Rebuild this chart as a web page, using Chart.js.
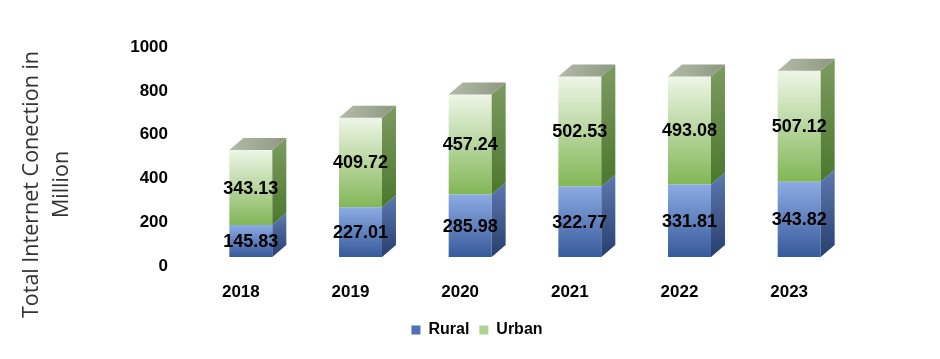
<!DOCTYPE html>
<html>
<head>
<meta charset="utf-8">
<script src="https://cdn.jsdelivr.net/npm/chart.js@4"></script>
<style>
  html, body { margin: 0; padding: 0; background: #fff; }
  #wrap { width: 940px; height: 359px; }
</style>
</head>
<body>
<div id="wrap"><canvas id="netChart"></canvas></div>
<script>
const years = ['2018', '2019', '2020', '2021', '2022', '2023'];
const rural = [145.83, 227.01, 285.98, 322.77, 331.81, 343.82];
const urban = [343.13, 409.72, 457.24, 502.53, 493.08, 507.12];
const yTicks = [0, 200, 400, 600, 800, 1000];
const yTitle = ['Total Internet Conection in', 'Million'];

const DX = 14, DY = 12;
const baseFont = 'Liberation Sans, Arial, sans-serif';

// front face gradients, light at top and darker at the base of each segment
function frontColor(ctx, light, dark) {
  const chart = ctx.chart;
  const y = chart.scales.y;
  if (!y || !chart.chartArea) return dark;
  let start = 0;
  for (let d = 0; d < ctx.datasetIndex; d++) start += chart.data.datasets[d].data[ctx.dataIndex];
  const end = start + ctx.raw;
  const g = chart.ctx.createLinearGradient(0, y.getPixelForValue(end), 0, y.getPixelForValue(start));
  g.addColorStop(0, light);
  g.addColorStop(1, dark);
  return g;
}

const sideColors = [['#5d79b2', '#283f6c'], ['#7d9b62', '#4b782c']];

const bar3d = {
  id: 'bar3d',
  afterDatasetsDraw(chart) {
    const c = chart.ctx;
    const last = chart.data.datasets.length - 1;
    c.save();
    chart.data.datasets.forEach((ds, di) => {
      chart.getDatasetMeta(di).data.forEach(bar => {
        const left = bar.x - bar.width / 2, right = bar.x + bar.width / 2;
        const top = bar.y, bottom = bar.base;
        // right side
        let g = c.createLinearGradient(0, top - DY, 0, bottom);
        g.addColorStop(0, sideColors[di][0]);
        g.addColorStop(1, sideColors[di][1]);
        c.fillStyle = g;
        c.beginPath();
        c.moveTo(right, top);
        c.lineTo(right + DX, top - DY);
        c.lineTo(right + DX, bottom - DY);
        c.lineTo(right, bottom);
        c.closePath();
        c.fill();
        // top face only on the upper segment
        if (di === last) {
          g = c.createLinearGradient(left, 0, right + DX, 0);
          g.addColorStop(0, '#b3bba9');
          g.addColorStop(1, '#8e987f');
          c.fillStyle = g;
          c.beginPath();
          c.moveTo(left, top);
          c.lineTo(left + DX, top - DY);
          c.lineTo(right + DX, top - DY);
          c.lineTo(right, top);
          c.closePath();
          c.fill();
        }
      });
    });
    // value labels in the middle of each front face
    c.font = 'bold 18px ' + baseFont;
    c.fillStyle = '#000';
    c.textAlign = 'center';
    c.textBaseline = 'middle';
    chart.data.datasets.forEach((ds, di) => {
      chart.getDatasetMeta(di).data.forEach((bar, i) => {
        c.fillText(ds.data[i].toFixed(2), bar.x, (bar.y + bar.base) / 2 + 1);
      });
    });
    c.restore();
  },
  afterDraw(chart) {
    const c = chart.ctx;
    c.save();
    c.translate(0, chart.height / 2 + 5);
    c.rotate(-Math.PI / 2);
    c.font = '21.5px Open Sans, sans-serif';
    c.fillStyle = '#333';
    c.textAlign = 'center';
    c.textBaseline = 'middle';
    c.fillText(yTitle[0], 0, 32);
    c.fillText(yTitle[1], 0, 62);
    c.restore();
  }
};

new Chart(document.getElementById('netChart'), {
  type: 'bar',
  data: {
    labels: years,
    datasets: [
      {
        label: 'Rural',
        data: rural,
        backgroundColor: ctx => frontColor(ctx, '#8cabe4', '#375a9a'),
        borderWidth: 0
      },
      {
        label: 'Urban',
        data: urban,
        backgroundColor: ctx => frontColor(ctx, '#eef6e7', '#82b656'),
        borderWidth: 0
      }
    ]
  },
  options: {
    responsive: true,
    maintainAspectRatio: false,
    animation: false,
    layout: { padding: { left: 100, right: 86, top: 37, bottom: 11 } },
    datasets: { bar: { categoryPercentage: 0.8, barPercentage: 0.49 } },
    scales: {
      x: {
        stacked: true,
        grid: { display: false, drawTicks: false },
        border: { display: false },
        afterFit: s => { s.height = 55; },
        ticks: {
          padding: 25,
          labelOffset: -10,
          color: '#000',
          font: { family: baseFont, size: 17, weight: 'bold' }
        }
      },
      y: {
        stacked: true,
        min: 0,
        max: 1000,
        grid: { display: false, drawTicks: false },
        border: { display: false },
        afterFit: s => { s.width = 96; },
        afterBuildTicks: s => { s.ticks = yTicks.map(v => ({ value: v })); },
        ticks: {
          padding: 28,
          labelOffset: 9,
          color: '#000',
          callback: v => String(v),
          font: { family: baseFont, size: 17, weight: 'bold' }
        }
      }
    },
    plugins: {
      legend: {
        position: 'bottom',
        labels: {
          boxWidth: 9,
          boxHeight: 9,
          padding: 10,
          color: '#000',
          font: { family: baseFont, size: 16, weight: 'bold' },
          generateLabels: chart => [
            { text: 'Rural', fillStyle: '#4f72b6', strokeStyle: '#4f72b6', lineWidth: 0, datasetIndex: 0 },
            { text: 'Urban', fillStyle: '#a9d38e', strokeStyle: '#a9d38e', lineWidth: 0, datasetIndex: 1 }
          ]
        }
      },
      tooltip: { enabled: false }
    }
  },
  plugins: [bar3d]
});
</script>
</body>
</html>
